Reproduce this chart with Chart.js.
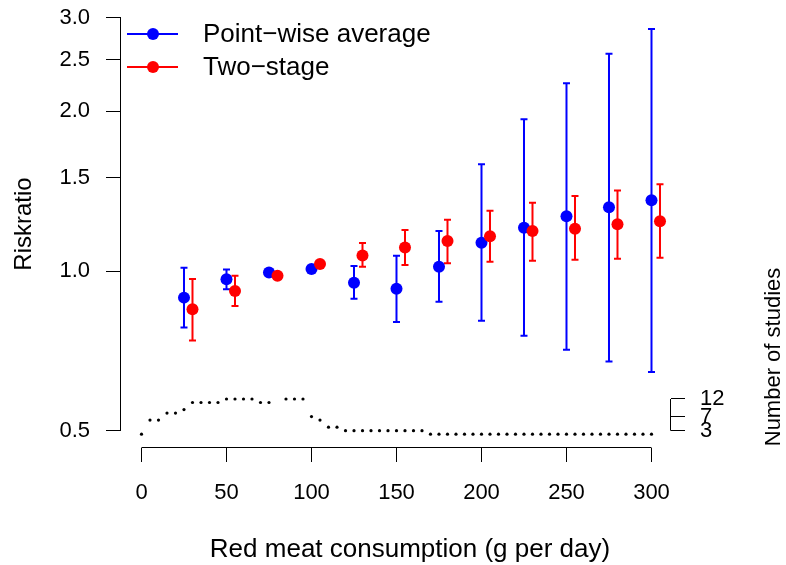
<!DOCTYPE html>
<html>
<head>
<meta charset="utf-8">
<script src="https://cdn.jsdelivr.net/npm/chart.js@4.4.1/dist/chart.umd.min.js"></script>
<style>
  html, body { margin: 0; padding: 0; background: #fff; }
  canvas { display: block; }
</style>
</head>
<body>
<canvas id="myChart" width="786" height="565"></canvas>
<script>
// red meat dose levels (g per day); two-stage estimates are drawn shifted right
const doses = [25, 50, 75, 100, 125, 150, 175, 200, 225, 250, 275, 300];
const dodge = 5;

// point-wise average: risk ratio and confidence limits
const avgRR = [0.891, 0.965, 0.994, 1.009, 0.950, 0.926, 1.019, 1.131, 1.207, 1.268, 1.319, 1.359];
const avgLo = [0.783, 0.924, 0.985, 1.000, 0.887, 0.802, 0.875, 0.806, 0.755, 0.711, 0.675, 0.645];
const avgHi = [1.014, 1.007, 1.003, 1.018, 1.022, 1.069, 1.190, 1.589, 1.932, 2.258, 2.568, 2.859];

// two-stage: risk ratio and confidence limits
const twoRR = [0.847, 0.917, 0.980, 1.031, 1.070, 1.108, 1.139, 1.163, 1.190, 1.202, 1.225, 1.241];
const twoLo = [0.740, 0.859, 0.972, 1.020, 1.019, 1.026, 1.034, 1.041, 1.046, 1.050, 1.055, 1.059];
const twoHi = [0.966, 0.980, 0.990, 1.043, 1.129, 1.195, 1.249, 1.299, 1.345, 1.385, 1.419, 1.457];

// number of studies contributing at each intake
const studyX = [0, 5, 10, 15, 20, 25, 30, 35, 40, 45, 50, 55, 60, 65, 70, 75, 80, 85, 90, 95,
  100, 105, 110, 115, 120, 125, 130, 135, 140, 145, 150, 155, 160, 165, 170, 175, 180, 185, 190, 195,
  200, 205, 210, 215, 220, 225, 230, 235, 240, 245, 250, 255, 260, 265, 270, 275, 280, 285, 290, 295, 300];
const studyN = [2, 6, 6, 8, 8, 9, 11, 11, 11, 11, 12, 12, 12, 12, 11, 11, null, 12, 12, 12,
  7, 6, 4, 4, 3, 3, 3, 3, 3, 3, 3, 3, 3, 3, 2, 2, 2, 2, 2, 2,
  2, 2, 2, 2, 2, 2, 2, 2, 2, 2, 2, 2, 2, 2, 2, 2, 2, 2, 2, 2, 2];

const xTicks = [0, 50, 100, 150, 200, 250, 300];
const yTicks = [0.5, 1.0, 1.5, 2.0, 2.5, 3.0];
const nTicks = [3, 7, 12];

const BLUE = '#0000ff';
const RED = '#ff0000';
const FONT = "'Liberation Sans', Arial, sans-serif";

const toPoints = (xs, ys, shift) => xs.map((x, i) => ({ x: x + shift, y: ys[i] }));

const axisGrid = { drawOnChartArea: false, drawTicks: true, tickLength: 14.5, color: '#000', lineWidth: 1 };
const tickFont = { family: FONT, size: 22 };

// keep the plot region fixed, like R's par(mar=...)
const fixBox = (w, h) => s => {
  if (w !== null) s.width = w;
  if (h !== null) s.height = h;
  s.paddingTop = 0; s.paddingBottom = 0; s.paddingLeft = 0; s.paddingRight = 0;
};

// confidence interval bars with flat caps
const errorBars = {
  id: 'errorBars',
  beforeDatasetsDraw(chart) {
    const { ctx, scales } = chart;
    chart.data.datasets.forEach(ds => {
      if (!ds.lo) return;
      ctx.save();
      ctx.strokeStyle = ds.borderColor;
      ctx.lineWidth = 2;
      ds.data.forEach((p, i) => {
        const px = scales.x.getPixelForValue(p.x);
        const top = scales.y.getPixelForValue(ds.hi[i]);
        const bot = scales.y.getPixelForValue(ds.lo[i]);
        ctx.beginPath();
        ctx.moveTo(px, top); ctx.lineTo(px, bot);
        ctx.moveTo(px - 3.5, top); ctx.lineTo(px + 3.5, top);
        ctx.moveTo(px - 3.5, bot); ctx.lineTo(px + 3.5, bot);
        ctx.stroke();
      });
      ctx.restore();
    });
  }
};

// R-style axis lines spanning first to last tick, legend and titles
const decorations = {
  id: 'decorations',
  afterDraw(chart) {
    const { ctx, scales, chartArea } = chart;
    ctx.save();
    ctx.strokeStyle = '#000';
    ctx.lineWidth = 1;
    ctx.beginPath();
    ctx.moveTo(scales.x.getPixelForValue(xTicks[0]), chartArea.bottom);
    ctx.lineTo(scales.x.getPixelForValue(xTicks[xTicks.length - 1]), chartArea.bottom);
    ctx.moveTo(chartArea.left, scales.y.getPixelForValue(yTicks[0]));
    ctx.lineTo(chartArea.left, scales.y.getPixelForValue(yTicks[yTicks.length - 1]));
    ctx.moveTo(chartArea.right, scales.y2.getPixelForValue(nTicks[0]));
    ctx.lineTo(chartArea.right, scales.y2.getPixelForValue(nTicks[nTicks.length - 1]));
    ctx.stroke();

    // legend
    const entries = [
      { label: 'Point\u2212wise average', color: BLUE, y: 34 },
      { label: 'Two\u2212stage', color: RED, y: 67 }
    ];
    ctx.font = `26px ${FONT}`;
    ctx.textBaseline = 'middle';
    ctx.textAlign = 'left';
    entries.forEach(e => {
      ctx.strokeStyle = e.color;
      ctx.fillStyle = e.color;
      ctx.lineWidth = 2;
      ctx.beginPath();
      ctx.moveTo(127, e.y); ctx.lineTo(178, e.y);
      ctx.stroke();
      ctx.beginPath();
      ctx.arc(153, e.y, 6, 0, Math.PI * 2);
      ctx.fill();
      ctx.fillStyle = '#000';
      ctx.fillText(e.label, 203, e.y + 1);
    });

    // axis titles
    ctx.fillStyle = '#000';
    ctx.textAlign = 'center';
    ctx.textBaseline = 'middle';
    ctx.font = `26px ${FONT}`;
    ctx.fillText('Red meat consumption (g per day)', 410, 550);

    ctx.font = `24px ${FONT}`;
    ctx.save();
    ctx.translate(24, 224);
    ctx.rotate(-Math.PI / 2);
    ctx.fillText('Riskratio', 0, 0);
    ctx.restore();

    ctx.font = `22px ${FONT}`;
    ctx.save();
    ctx.translate(774, 357);
    ctx.rotate(-Math.PI / 2);
    ctx.fillText('Number of studies', 0, 0);
    ctx.restore();
    ctx.restore();
  }
};

const config = {
  type: 'scatter',
  data: {
    datasets: [
      {
        label: 'Number of studies',
        data: toPoints(studyX, studyN, 0),
        yAxisID: 'y2',
        backgroundColor: '#000',
        borderWidth: 0,
        pointRadius: 1.6,
        order: 3
      },
      {
        label: 'Point\u2212wise average',
        data: toPoints(doses, avgRR, 0),
        lo: avgLo,
        hi: avgHi,
        yAxisID: 'y',
        backgroundColor: BLUE,
        borderColor: BLUE,
        borderWidth: 0,
        pointRadius: 6,
        order: 2
      },
      {
        label: 'Two\u2212stage',
        data: toPoints(doses, twoRR, dodge),
        lo: twoLo,
        hi: twoHi,
        yAxisID: 'y',
        backgroundColor: RED,
        borderColor: RED,
        borderWidth: 0,
        pointRadius: 6,
        order: 1
      }
    ]
  },
  options: {
    responsive: false,
    animation: false,
    devicePixelRatio: 1,
    layout: { padding: { top: 8, left: 0, right: 0, bottom: 0 } },
    plugins: { legend: { display: false }, tooltip: { enabled: false } },
    scales: {
      x: {
        type: 'linear',
        bounds: 'data',
        min: -12.35,
        max: 311.18,
        afterBuildTicks: s => { s.ticks = xTicks.map(v => ({ value: v })); },
        afterFit: fixBox(null, 117.5),
        border: { display: false },
        grid: axisGrid,
        ticks: { color: '#000', font: tickFont, padding: 18, maxRotation: 0, autoSkip: false }
      },
      y: {
        type: 'logarithmic',
        bounds: 'data',
        position: 'left',
        min: 0.465,
        max: 3.131,
        afterBuildTicks: s => { s.ticks = yTicks.map(v => ({ value: v })); },
        afterFit: fixBox(120.5, null),
        border: { display: false },
        grid: axisGrid,
        ticks: { color: '#000', font: tickFont, padding: 16, autoSkip: false, callback: v => Number(v).toFixed(1) }
      },
      y2: {
        type: 'linear',
        bounds: 'data',
        position: 'right',
        min: -1.78,
        max: 123.08,
        afterBuildTicks: s => { s.ticks = nTicks.map(v => ({ value: v })); },
        afterFit: fixBox(115.5, null),
        border: { display: false },
        grid: axisGrid,
        ticks: { color: '#000', font: tickFont, padding: 15, autoSkip: false }
      }
    }
  },
  plugins: [errorBars, decorations]
};

const chart = new Chart(document.getElementById('myChart'), config);
</script>
</body>
</html>
